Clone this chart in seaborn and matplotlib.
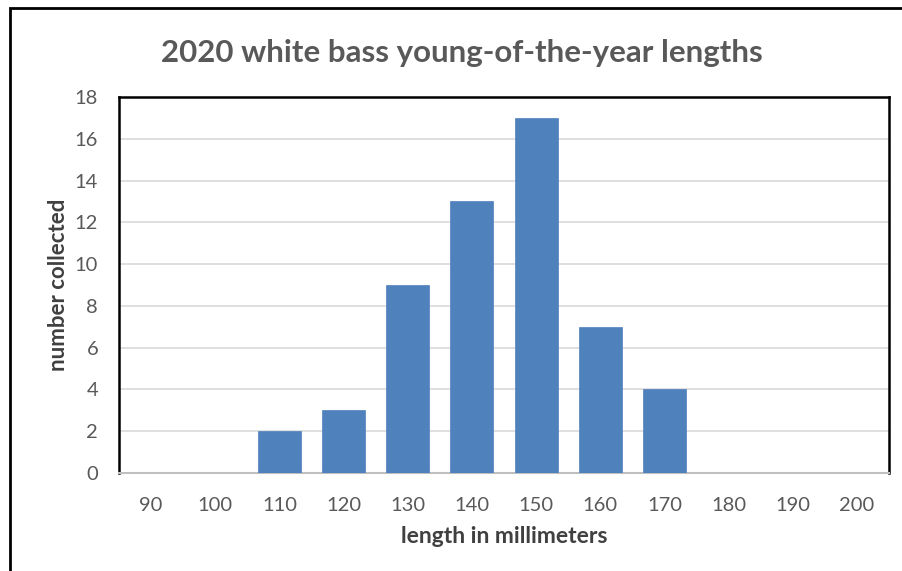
import matplotlib
matplotlib.use("Agg")
import matplotlib.pyplot as plt
import seaborn as sns
import pandas as pd
from matplotlib.patches import Rectangle

lengths = [90, 100, 110, 120, 130, 140, 150, 160, 170, 180, 190, 200]
counts = [0, 0, 2, 3, 9, 13, 17, 7, 4, 0, 0, 0]
y_ticks = [0, 2, 4, 6, 8, 10, 12, 14, 16, 18]

df = pd.DataFrame({"length": [str(v) for v in lengths], "count": counts})

sns.set_theme(style="white")
plt.rcParams['font.family'] = ['Lato', 'DejaVu Sans']
gray = "#595959"
dark = "#404040"

fig = plt.figure(figsize=(9.03, 5.71), dpi=100)
ax = fig.add_axes([119/903, 1-473/571, (889-119)/903, (473-97)/571])

sns.barplot(data=df, x="length", y="count", color="#4F81BD", saturation=1,
            width=0.67, ax=ax, edgecolor="#4F81BD", linewidth=0.5, zorder=3)

ax.set_ylim(0, 18)
ax.set_yticks(y_ticks)
ax.set_xlim(-0.5, len(lengths) - 0.5)
ax.yaxis.grid(True, color="#D9D9D9", linewidth=1.2, zorder=0)
ax.set_axisbelow(True)
ax.tick_params(axis="both", length=0, labelsize=14.5, labelcolor=gray)
ax.tick_params(axis="x", pad=17)
ax.tick_params(axis="y", pad=15)

for s in ["top", "left", "right"]:
    ax.spines[s].set_color("black")
    ax.spines[s].set_linewidth(1.8)
ax.spines["bottom"].set_color("#BFBFBF")
ax.spines["bottom"].set_linewidth(1.5)

ax.set_xlabel("length in millimeters", fontsize=16.5, fontweight="bold", color=dark, labelpad=9)
ax.set_ylabel("number collected", fontsize=16, fontweight="bold", color=dark, labelpad=4)

fig.text(462/903, 1-53/571, "2020 white bass young-of-the-year lengths", ha="center", va="center",
         fontsize=22.5, fontweight="bold", color=gray)

fig.patches.append(Rectangle((10/903, -0.2), 1.2, 1 - 8/571 + 0.2, transform=fig.transFigure,
                             fill=False, edgecolor="black", linewidth=2, clip_on=False))

fig.savefig("out.png", dpi=100)
